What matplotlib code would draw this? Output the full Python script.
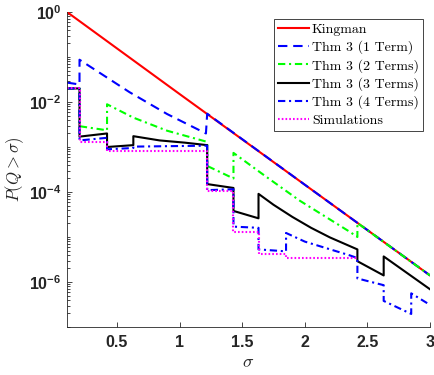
import numpy as np
import matplotlib
matplotlib.use('Agg')
import matplotlib.pyplot as plt
from matplotlib.ticker import FixedLocator, LogLocator, FuncFormatter, NullFormatter

matplotlib.rcParams['mathtext.fontset'] = 'custom'
matplotlib.rcParams['mathtext.bf'] = 'Liberation Sans:bold'
matplotlib.rcParams['mathtext.rm'] = 'Liberation Sans:bold'

# data (sigma, P(Q > sigma))
kingman_x = [0.1, 1.0, 2.0, 3.0]
kingman_y = [1.0, 1.5e-2, 1.45e-4, 1.4e-6]

term1_x = [0.1, 0.2, 0.2, 0.6, 0.9, 1.21, 1.22, 2.0, 3.0]
term1_y = [2.7e-2, 2.45e-2, 8.7e-2, 1.65e-2, 5.4e-3, 2.0e-3, 5.5e-3, 1.45e-4, 1.4e-6]

term2_x = [0.1, 0.2, 0.2, 0.42, 0.42, 0.63, 0.9, 1.22, 1.22, 1.43, 1.43,
           1.68, 1.96, 2.36, 2.42, 2.42, 3.0]
term2_y = [2.0e-2, 2.0e-2, 2.9e-3, 2.35e-3, 8.9e-3, 4.5e-3, 2.3e-3, 1.3e-3, 3.8e-4,
           2.0e-4, 7.4e-4, 2.3e-4, 6.4e-5, 1.3e-5, 1.0e-5, 2.05e-5, 1.4e-6]

term3_x = [0.1, 0.2, 0.2, 0.42, 0.42, 0.63, 0.63, 0.84, 1.04, 1.22, 1.22, 1.43, 1.43,
           1.63, 1.63, 1.75, 1.9, 2.05, 2.2, 2.42, 2.42, 2.63, 2.63, 3.0]
term3_y = [2.0e-2, 2.0e-2, 1.7e-3, 2.0e-3, 1.0e-3, 1.1e-3, 1.74e-3, 1.4e-3, 1.25e-3,
           1.1e-3, 1.5e-4, 1.23e-4, 3.8e-5, 2.6e-5, 9.1e-5, 5.2e-5, 2.8e-5, 1.6e-5,
           9.8e-6, 5.3e-6, 2.9e-6, 1.4e-6, 3.7e-6, 6.9e-7]

term4_x = [0.1, 0.2, 0.2, 0.42, 0.42, 0.63, 0.63, 1.22, 1.22, 1.43, 1.43, 1.63, 1.63,
           1.85, 1.85, 2.0, 2.36, 2.42, 2.42, 2.63, 2.63, 2.85, 2.85, 3.0]
term4_y = [2.0e-2, 2.0e-2, 1.4e-3, 1.6e-3, 8.9e-4, 9.5e-4, 1.02e-3, 1.07e-3, 1.1e-4,
           1.15e-4, 1.7e-5, 1.6e-5, 5.3e-6, 4.8e-6, 1.23e-5, 7.9e-6, 3.9e-6, 3.4e-6,
           1.2e-6, 8.5e-7, 3.8e-7, 1.95e-7, 5.6e-7, 3.1e-7]

sim_x = [0.1, 0.2, 0.2, 0.42, 0.42, 1.22, 1.22, 1.43, 1.43, 1.63, 1.63, 1.85, 1.85, 2.42]
sim_y = [2.0e-2, 2.0e-2, 1.29e-3, 1.29e-3, 8.1e-4, 8.1e-4, 1.04e-4, 1.04e-4,
         1.32e-5, 1.32e-5, 4.1e-6, 4.1e-6, 3.4e-6, 3.4e-6]

fig = plt.figure(figsize=(4.35, 3.75), dpi=100)
ax = fig.add_axes([0.154, 0.128, 0.8345, 0.84])

lw = 1.5
ax.plot(kingman_x, kingman_y, color='#ff0000', lw=lw, label='Kingman')
ax.plot(term1_x, term1_y, color='#0000ff', lw=lw, dashes=(4.5, 2.8), label='Thm 3 (1 Term)')
ax.plot(term2_x, term2_y, color='#00ff00', lw=lw, dashes=(3.5, 1.8, 1, 1.8), label='Thm 3 (2 Terms)')
ax.plot(term3_x, term3_y, color='k', lw=lw, label='Thm 3 (3 Terms)')
ax.plot(term4_x, term4_y, color='#0000ff', lw=lw, dashes=(3.5, 1.8, 1, 1.8), label='Thm 3 (4 Terms)')
ax.plot(sim_x, sim_y, color='#ff00ff', lw=lw, dashes=(0.8, 1.0), label='Simulations')

ax.set_yscale('log')
ax.set_xlim(0.1, 3.0)
ax.set_ylim(1e-7, 1.0)

ax.xaxis.set_major_locator(FixedLocator([0.5, 1, 1.5, 2, 2.5, 3]))
ax.xaxis.set_major_formatter(FuncFormatter(lambda v, p: '%g' % v))
ax.yaxis.set_major_locator(FixedLocator([1e-6, 1e-4, 1e-2, 1.0]))
ax.yaxis.set_minor_locator(LogLocator(base=10, subs=np.arange(1, 10), numticks=20))
ax.yaxis.set_minor_formatter(NullFormatter())
ax.yaxis.set_major_formatter(FuncFormatter(
    lambda v, p: r'$\mathbf{10^{%d}}$' % int(round(np.log10(v)))))

ax.tick_params(which='both', direction='in', colors='#262626', width=0.6)
ax.tick_params(which='major', length=3.5, labelsize=11.5)
ax.tick_params(axis='x', which='major', pad=6)
ax.tick_params(axis='y', which='major', pad=4)
ax.tick_params(which='minor', length=2)
for lab in ax.get_xticklabels():
    lab.set_fontweight('bold')
    lab.set_family('Liberation Sans')

for s in ['top', 'right']:
    ax.spines[s].set_visible(False)
for s in ['left', 'bottom']:
    ax.spines[s].set_color('#262626')
    ax.spines[s].set_linewidth(0.6)

ax.set_xlabel(r'$\sigma$', fontsize=13, math_fontfamily='cm', color='#262626', labelpad=2)
ax.set_ylabel(r'$P(Q>\sigma)$', fontsize=12, math_fontfamily='cm', color='#262626')
ax.yaxis.set_label_coords(-0.112, 0.5)

leg = ax.legend(loc='upper right', bbox_to_anchor=(0.9724, 0.9493),
                bbox_transform=fig.transFigure, borderaxespad=0,
                prop={'family': 'cmr10', 'size': 10}, fancybox=False,
                edgecolor='#262626', framealpha=1, handlelength=2.2,
                handletextpad=0.2, labelspacing=0.33, borderpad=0.3)
leg.get_frame().set_linewidth(0.6)

fig.savefig('out.png', dpi=100)
